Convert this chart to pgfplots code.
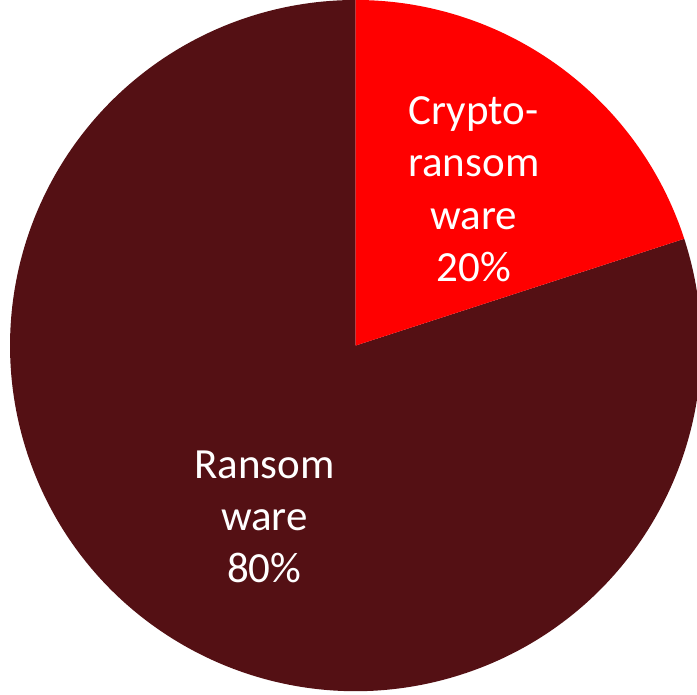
\documentclass[border=0pt]{standalone}
\usepackage{pgfplots}
\usepackage{pgfplotstable}
\pgfplotsset{compat=1.18}
\usepackage{fontspec}
\setmainfont{Carlito}

\definecolor{cryptored}{HTML}{FF0000}
\definecolor{ransomdark}{HTML}{541014}

% share of each kind, in percent
\pgfplotstableread{
kind value
crypto 20
plain 80
}\piedata

\begin{document}
\begin{tikzpicture}
\pgfplotstablegetelem{0}{value}\of\piedata \let\vcrypto\pgfplotsretval
\pgfplotstablegetelem{1}{value}\of\piedata \let\vplain\pgfplotsretval
\pgfmathsetmacro{\aStart}{90}
\pgfmathsetmacro{\aMid}{90-3.6*\vcrypto}
\pgfmathsetmacro{\aEnd}{\aMid-3.6*\vplain}
\def\R{4.97cm}
\begin{axis}[
  x=4.97cm, y=4.97cm,
  xmin=-1.029, xmax=0.988,
  ymin=-1.0087, ymax=1.0116,
  hide axis,
  clip=true,
]
  \fill[ransomdark] (axis cs:0,0) -- ++(\aMid:\R) arc[start angle=\aMid, end angle=\aEnd, radius=\R] -- cycle;
  \fill[cryptored] (axis cs:0,0) -- ++(\aStart:\R) arc[start angle=\aStart, end angle=\aMid, radius=\R] -- cycle;
  \node[white, align=center, font=\fontsize{17.6}{21.4}\selectfont]
    at (axis cs:0.342,0.452) {Crypto-\\ransom\\ware\\\vcrypto\%};
  \node[white, align=center, font=\fontsize{17.6}{21.4}\selectfont]
    at (axis cs:-0.264,-0.496) {Ransom\\ware\\\vplain\%};
\end{axis}
\end{tikzpicture}
\end{document}
